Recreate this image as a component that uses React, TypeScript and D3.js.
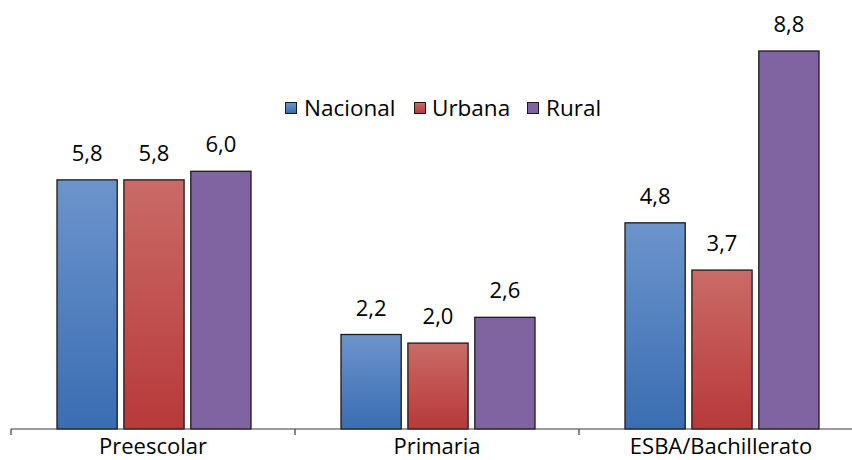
import React from "react";
import * as d3 from "d3";

const categories = ["Preescolar", "Primaria", "ESBA/Bachillerato"];
const seriesNames = ["Nacional", "Urbana", "Rural"];
const nacional = [5.8, 2.2, 4.8];
const urbana = [5.8, 2.0, 3.7];
const rural = [6.0, 2.6, 8.8];
const seriesValues = [nacional, urbana, rural];

const W = 852;
const H = 460;
const FONT = "'Open Sans', 'Noto Sans', sans-serif";

const gradTop = ["#6c94cc", "#c96b67", "#8064a2"];
const gradBot = ["#3a6db2", "#b8393a", "#8064a2"];

export default function App() {
  const baseY = 429;
  const x0 = d3.scaleBand<string>().domain(categories).range([11, 863]).paddingInner(0).paddingOuter(0);
  const x1 = d3.scaleBand<string>().domain(seriesNames).range([46, 240]).paddingInner(0.1);
  const y = d3.scaleLinear().domain([0, 8.8]).range([baseY, 51]);
  const fmt = (v: number) => v.toFixed(1).replace(".", ",");
  const ticks = [...categories.map((c) => x0(c)!), x0(categories[2])! + x0.bandwidth()];

  return (
    <svg width={W} height={H} style={{ position: "absolute", left: 0, top: 0, display: "block" }}>
      <defs>
        {seriesNames.map((s, i) => (
          <linearGradient key={s} id={`g${i}`} x1="0" y1="0" x2="0" y2="1">
            <stop offset="0" stopColor={gradTop[i]} />
            <stop offset="1" stopColor={gradBot[i]} />
          </linearGradient>
        ))}
      </defs>
      <rect width={W} height={H} fill="#fff" />
      {categories.map((c, ci) => (
        <g key={c} transform={`translate(${x0(c)},0)`}>
          {seriesNames.map((s, si) => {
            const v = seriesValues[si][ci];
            const bx = x1(s)!;
            return (
              <g key={s}>
                <rect
                  x={bx}
                  y={y(v)}
                  width={x1.bandwidth()}
                  height={baseY - y(v)}
                  fill={`url(#g${si})`}
                  stroke="#1a1a1a"
                  strokeWidth={1.3}
                />
                <text
                  x={bx + x1.bandwidth() / 2}
                  y={y(v) - 19}
                  textAnchor="middle"
                  fontFamily={FONT}
                  fontSize={22}
                  fill="#000"
                >
                  {fmt(v)}
                </text>
              </g>
            );
          })}
          <text
            x={x0.bandwidth() / 2}
            y={454}
            textAnchor="middle"
            fontFamily={FONT}
            fontSize={22}
            fill="#000"
          >
            {c}
          </text>
        </g>
      ))}
      <line x1={11} x2={W} y1={baseY} y2={baseY} stroke="#3a3a3a" strokeWidth={1.2} />
      {ticks.map((t, i) => (
        <line key={i} x1={t} x2={t} y1={baseY} y2={baseY + 6} stroke="#3a3a3a" strokeWidth={1.2} />
      ))}
      {[
        { x: 285, tx: 304 },
        { x: 414, tx: 432 },
        { x: 527, tx: 546 },
      ].map((l, i) => (
        <g key={i}>
          <rect x={l.x + 0.5} y={102.5} width={11} height={11} fill={`url(#g${i})`} stroke="#1a1a1a" strokeWidth={1} />
          <text x={l.tx} y={116} fontFamily={FONT} fontSize={22.5} fill="#000">
            {seriesNames[i]}
          </text>
        </g>
      ))}
    </svg>
  );
}
